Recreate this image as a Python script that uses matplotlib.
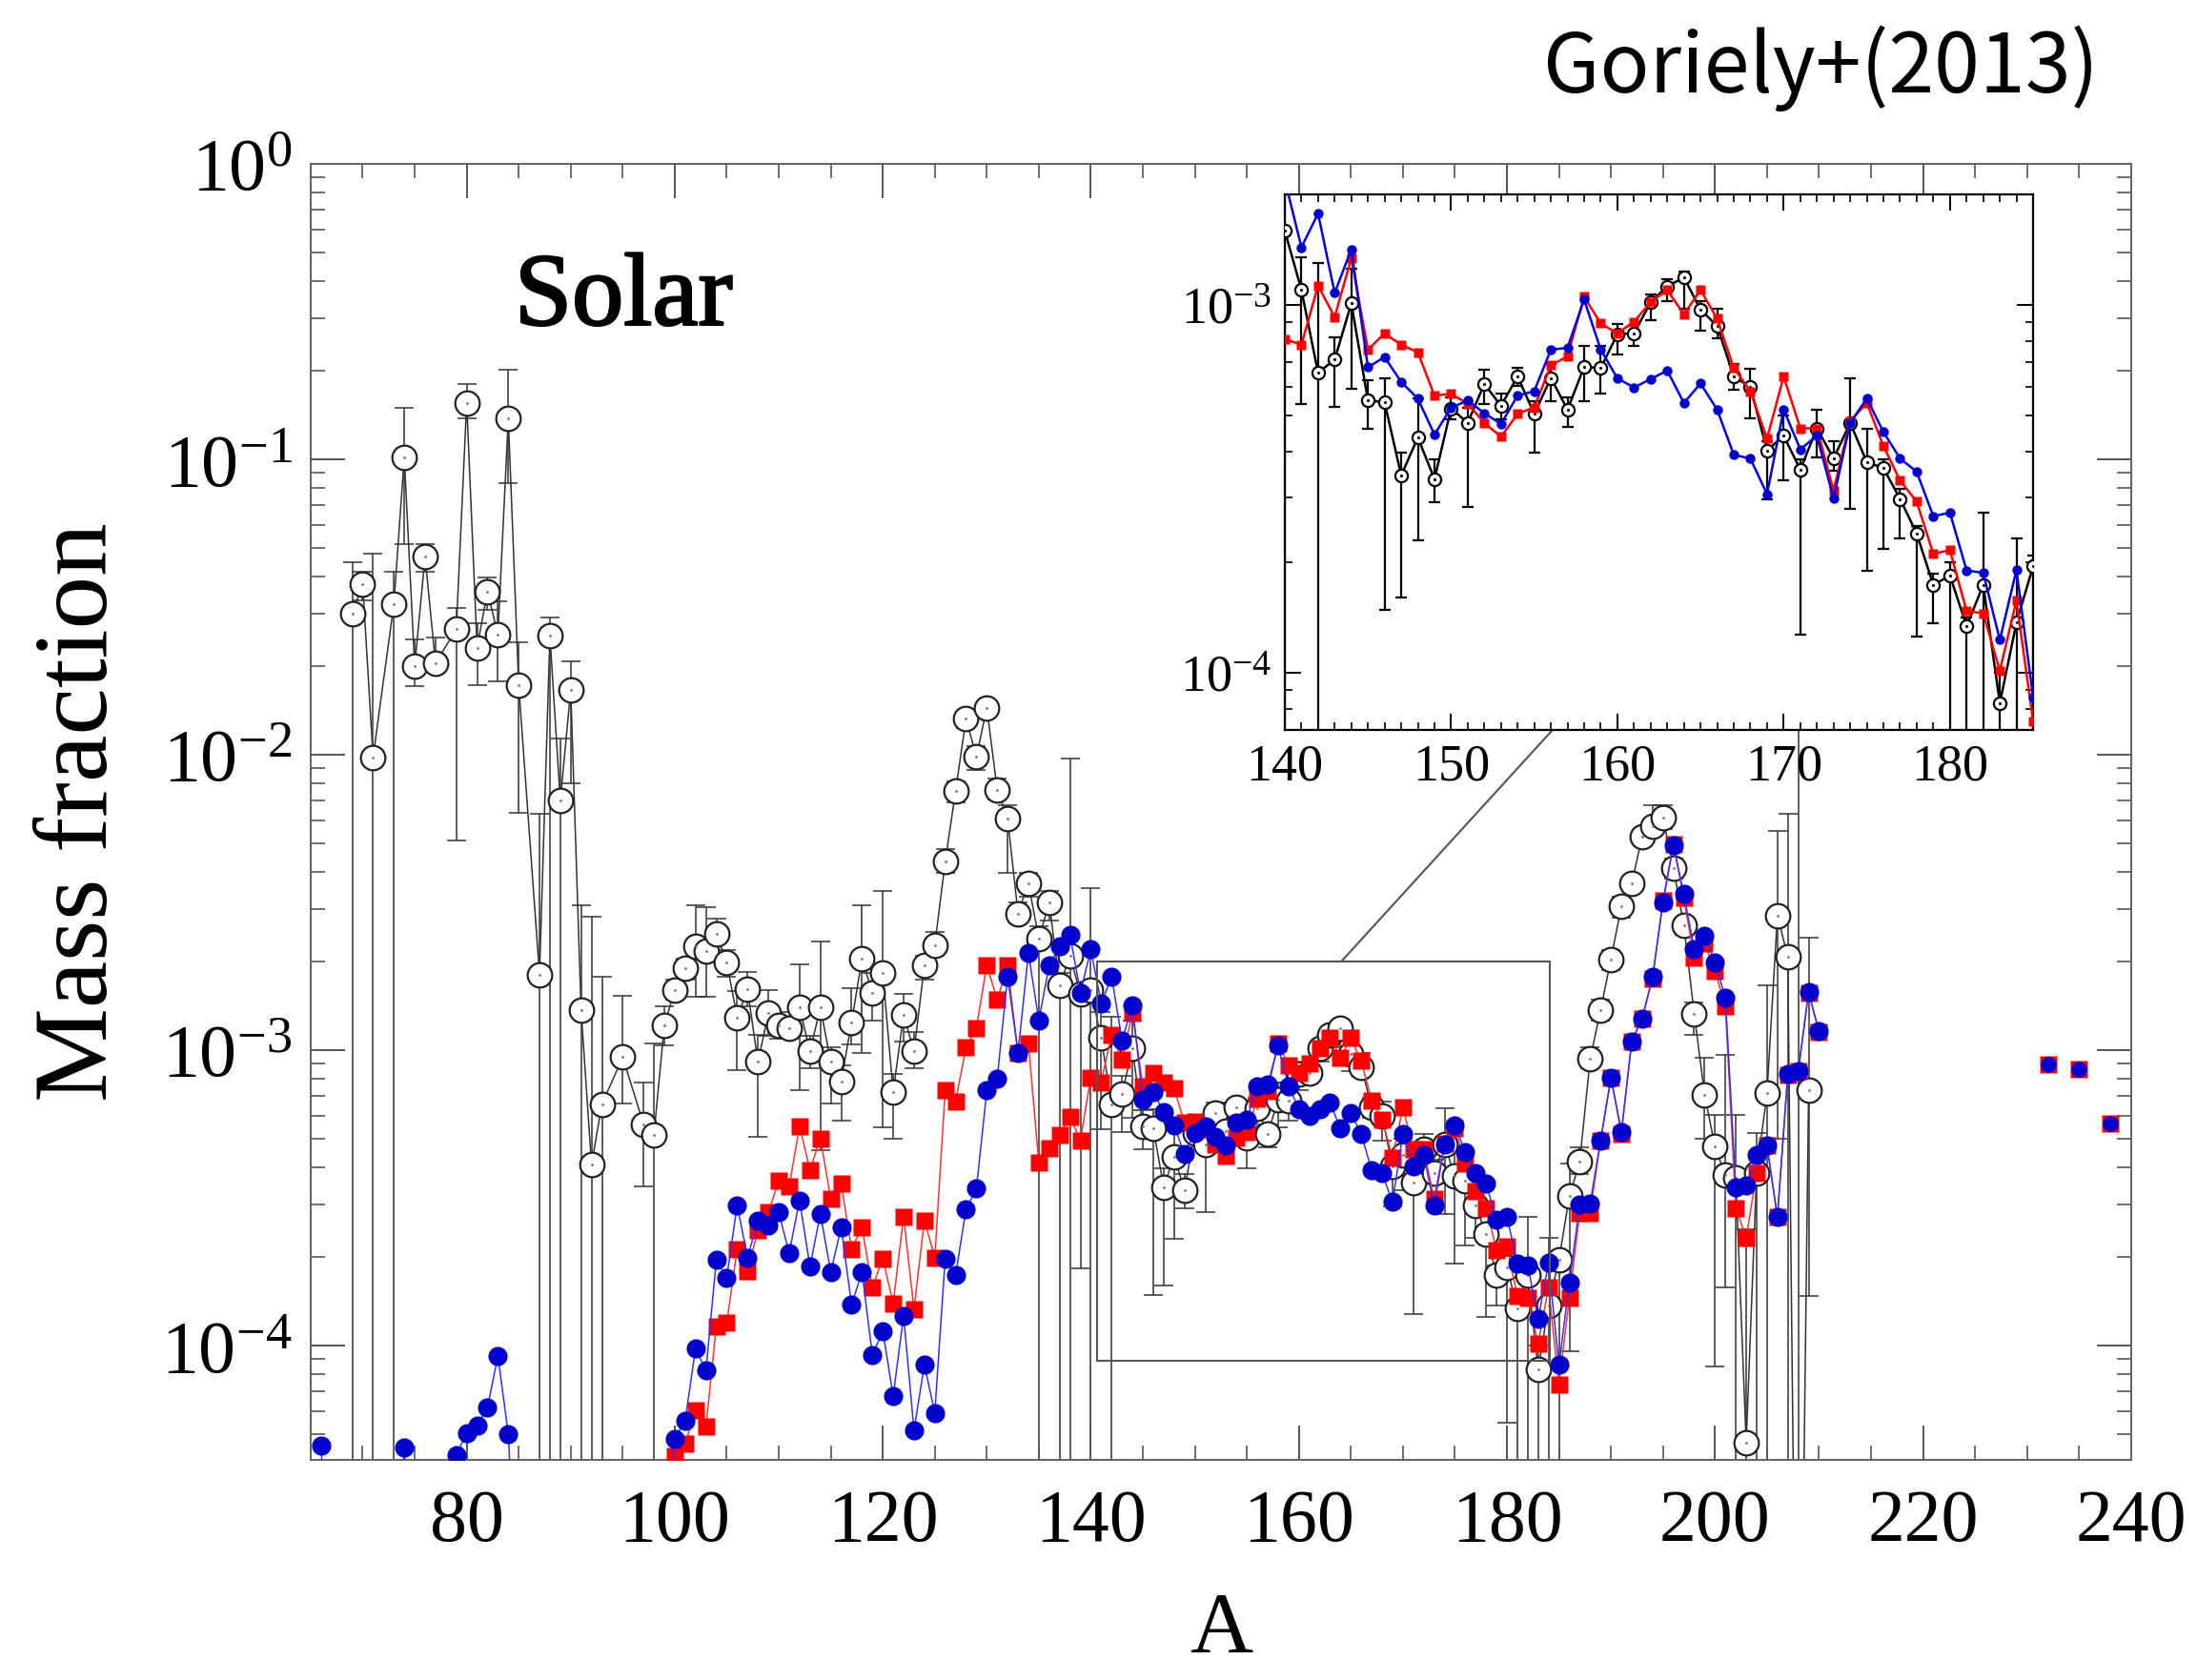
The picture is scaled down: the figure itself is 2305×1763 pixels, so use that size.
import numpy as np
import matplotlib.pyplot as plt
import matplotlib.patheffects as pe
from matplotlib.patches import Rectangle, ConnectionPatch
from matplotlib.ticker import MultipleLocator, LogLocator, NullFormatter, LogFormatterMathtext

plt.rcParams['font.family'] = ['Liberation Serif', 'DejaVu Serif']
plt.rcParams['mathtext.fontset'] = 'custom'
plt.rcParams['mathtext.rm'] = 'Liberation Serif'
plt.rcParams['mathtext.it'] = 'Liberation Serif:italic'
plt.rcParams['mathtext.bf'] = 'Liberation Serif:bold'

# ---------------- data (log10 of mass fraction) ----------------
# solar r-process residuals: value, lower end and upper end of the error bar
solar_A = [69, 70, 71, 73, 74, 75, 76, 77, 79, 80, 81, 82, 83, 84, 85, 87, 88, 89, 90,
           91, 92, 93, 95, 97, 98, 99] + list(range(100, 210))
solar_log = [-1.524, -1.421, -2.008, -1.49, -0.993, -1.70, -1.329, -1.69, -1.575, -0.809,
             -1.637, -1.447, -1.594, -0.86, -1.765, -2.744, -1.598, -2.156, -1.78, -2.866,
             -3.387, -3.183, -3.024, -3.25, -3.286, -2.916,
             -2.796, -2.722, -2.648, -2.666, -2.607, -2.703, -2.889, -2.795, -3.04, -2.875,
             -2.915, -2.925, -2.856, -3.004, -2.856, -3.04, -3.105, -2.906, -2.69, -2.806,
             -2.74, -3.142, -2.88, -3.004, -2.714, -2.644, -2.362, -2.122, -1.878, -2.007,
             -1.841, -2.118, -2.216, -2.537, -2.435, -2.622, -2.5, -2.782, -2.681, -2.81,
             -2.798, -2.959, -3.184, -3.148, -2.995, -3.259, -3.264, -3.463, -3.36, -3.473,
             -3.281, -3.32, -3.214, -3.274, -3.194, -3.296, -3.198, -3.284, -3.168, -3.171,
             -3.079, -3.077, -2.992, -2.949, -2.925, -3.012, -3.057, -3.194, -3.223, -3.395,
             -3.355, -3.447, -3.335, -3.417, -3.32, -3.427, -3.443, -3.527, -3.621, -3.761,
             -3.735, -3.873, -3.761, -4.082, -3.863, -3.71, -3.495, -3.377, -3.03, -2.864,
             -2.692, -2.513, -2.435, -2.276, -2.242, -2.214, -2.383, -2.576, -2.876, -3.15,
             -3.327, -3.424, -3.432, -4.33, -3.417, -3.146, -2.544, -2.685, -6.0, -3.135]
solar_lo = [-6, -1.477, -6, -6, -1.287, -1.768, -1.38, -1.72, -2.29, -0.86,
            -1.765, -1.51, -1.75, -1.08, -2.196, -6, -6, -6, -2.097, -6,
            -6, -6, -3.18, -3.46, -6, -2.985,
            -2.83, -2.76, -2.82, -2.82, -2.70, -2.75, -3.069, -2.85, -3.294, -2.95,
            -2.96, -2.96, -3.137, -3.06, -3.34, -3.18, -3.24, -2.98, -3.01, -2.90,
            -3.26, -3.30, -2.97, -3.06, -2.76, -2.68, -2.40, -2.16, -1.91, -2.05,
            -1.87, -2.15, -2.40, -2.57, -2.48, -6, -2.56, -6, -6, -3.74,
            -6, -3.268, -6, -3.276, -3.228, -3.335, -3.828, -3.796, -3.639, -3.537,
            -3.31, -3.549, -3.27, -3.31, -3.22, -3.40, -3.26, -3.33, -3.261, -3.24,
            -3.134, -3.11, -3.04, -2.99, -3.01, -3.07, -3.09, -3.23, -3.307, -3.529,
            -3.475, -3.895, -3.415, -3.45, -3.554, -3.721, -3.662, -3.634, -3.902, -3.865,
            -4.26, -6, -6, -6, -6, -6, -4.02, -3.42, -3.06, -2.90,
            -2.73, -2.55, -2.46, -2.30, -2.27, -2.25, -2.42, -2.61, -2.947, -3.299,
            -4.07, -3.803, -6, -6, -6, -6, -3.3, -6, -6, -3.832]
solar_hi = [-1.347, -1.38, -1.32, -1.38, -0.827, -1.61, -1.287, -1.602, -1.502, -0.746,
            -1.556, -1.40, -1.48, -0.698, -1.62, -2.2, -1.534, -1.945, -1.685, -2.508,
            -2.547, -2.752, -2.817, -3.11, -2.976, -2.85,
            -2.76, -2.69, -2.51, -2.515, -2.555, -2.66, -2.80, -2.736, -2.949, -2.797,
            -2.87, -2.89, -2.709, -2.95, -2.633, -2.99, -3.05, -2.79, -2.509, -2.74,
            -2.46, -3.08, -2.81, -2.94, -2.68, -2.60, -2.32, -2.09, -1.85, -1.97,
            -1.82, -2.08, -2.17, -2.50, -2.40, -2.58, -2.46, -2.74, -2.013, -2.78,
            -2.452, -2.87, -2.886, -3.087, -2.90, -3.204, -3.20, -3.40, -3.254, -3.42,
            -3.25, -3.28, -3.176, -3.24, -3.17, -3.26, -3.16, -3.25, -3.111, -3.111,
            -3.052, -3.055, -2.97, -2.93, -2.91, -2.99, -3.01, -3.16, -3.174, -3.37,
            -3.30, -3.42, -3.284, -3.37, -3.198, -3.335, -3.42, -3.50, -3.60, -3.73,
            -3.70, -3.85, -3.564, -4.0, -3.634, -3.68, -3.385, -3.33, -2.99, -2.83,
            -2.66, -2.48, -2.41, -2.25, -2.17, -2.17, -2.35, -2.55, -2.84, -3.025,
            -3.22, -3.017, -3.22, -3.605, -3.28, -2.782, -2.258, -2.2, -1.9, -2.618]

# model 1 (red squares), A = 100..210
red_A = list(range(100, 211))
red_log = [-4.375, -4.333, -4.219, -4.274, -3.936, -3.923, -3.674, -3.748, -3.608, -3.549,
           -3.443, -3.462, -3.257, -3.406, -3.299, -3.502, -3.451, -3.674, -3.600, -3.803,
           -3.705, -3.857, -3.563, -3.877, -3.576, -3.702, -3.137, -3.174, -2.990, -2.925,
           -2.712, -2.829, -2.714, -3.010, -2.976, -3.382, -3.333, -3.286, -3.226, -3.305,
           -3.092, -3.108, -2.947, -3.032, -2.873, -3.121, -3.077, -3.108, -3.128, -3.246,
           -3.241, -3.268, -3.320, -3.358, -3.296, -3.278, -3.164, -3.139, -2.977, -3.050,
           -3.077, -3.045, -2.992, -2.959, -3.025, -2.959, -3.037, -3.171, -3.234, -3.363,
           -3.194, -3.335, -3.335, -3.504, -3.315, -3.266, -3.383, -3.477, -3.534, -3.676,
           -3.666, -3.831, -3.838, -3.994, -3.803, -4.131, -3.839, -3.550, -3.550, -3.307,
           -3.092, -3.283, -2.970, -2.892, -2.759, -2.493, -2.302, -2.485, -2.688, -2.638,
           -2.732, -2.853, -3.534, -3.636, -3.417, -3.323, -3.565, -3.083, -3.072, -2.806,
           -2.939]

# model 2 (blue circles), A = 66..210; -5 lies below the plotted range
blue_A = list(range(66, 211))
blue_log = [-4.34, -5, -5, -5, -5, -5, -5, -5, -4.346, -5,
            -5, -5, -5, -4.37, -4.296, -4.27, -4.21, -4.035, -4.30, -5,
            -5, -5, -5, -5, -5, -5, -5, -5, -5, -5,
            -5, -5, -5, -5,
            -4.315, -4.254, -4.010, -4.084, -3.711, -3.770, -3.525, -3.702, -3.576, -3.595,
            -3.549, -3.687, -3.508, -3.733, -3.554, -3.752, -3.600, -3.862, -3.752, -4.032,
            -3.951, -4.171, -3.899, -4.287, -4.065, -4.228, -3.705, -3.761, -3.539, -3.469,
            -3.137, -3.096, -2.751, -3.010, -2.672, -2.899, -2.712, -2.648, -2.611, -2.805,
            -2.659, -2.843, -2.751, -2.967, -2.848, -3.169, -3.141, -3.209, -3.254, -3.352,
            -3.279, -3.259, -3.294, -3.323, -3.246, -3.234, -3.121, -3.116, -2.985, -3.121,
            -3.199, -3.224, -3.201, -3.178, -3.266, -3.213, -3.284, -3.407, -3.417, -3.514,
            -3.284, -3.392, -3.355, -3.526, -3.320, -3.254, -3.345, -3.417, -3.453, -3.574,
            -3.564, -3.721, -3.728, -3.910, -3.720, -4.066, -3.788, -3.523, -3.518, -3.307,
            -3.092, -3.276, -2.970, -2.892, -2.751, -2.500, -2.305, -2.472, -2.657, -2.613,
            -2.704, -2.822, -3.464, -3.459, -3.354, -3.323, -3.565, -3.080, -3.072, -2.803,
            -2.936]

# Th and U
act_A = [232, 235, 238]
red_act = [-3.049, -3.064, -3.249]
blue_act = [-3.049, -3.064, -3.249]

RED = '#ff0000'
BLUE = '#0000cc'

sA = np.array(solar_A)
sv = 10.0 ** np.array(solar_log)
s_err = [sv - 10.0 ** np.array(solar_lo), 10.0 ** np.array(solar_hi) - sv]
rv = 10.0 ** np.array(red_log)
bv = 10.0 ** np.array(blue_log)

fig = plt.figure(figsize=(23.05, 17.63), dpi=100)

# ---------------- main panel ----------------
ax = fig.add_axes([0.1414, 0.131, 0.8286, 0.7714])
ax.errorbar(sA, sv, yerr=s_err, fmt='none', ecolor='#333333', elinewidth=1.1,
            capsize=7, capthick=1.1, zorder=1)
ax.plot(sA, sv, '-', color='#333333', lw=1.1, zorder=2)
ax.plot(sA, sv, 'o', ms=18.5, mfc='white', mec='#222222', mew=1.6, zorder=3)
ax.plot(sA, sv, '.', ms=2, color='#777777', zorder=3)

ax.plot(red_A, rv, '-', color='#ff3030', lw=1.1, zorder=4)
ax.plot(red_A, rv, 's', ms=13.5, color=RED, mec='none', zorder=5)
ax.plot(blue_A, bv, '-', color='#3030ff', lw=1.1, zorder=6)
ax.plot(blue_A, bv, 'o', ms=14.5, color=BLUE, mec='none', zorder=7)
ax.plot(act_A, 10.0 ** np.array(red_act), 's', ms=13.5, color=RED, mec='none', zorder=5)
ax.plot(act_A, 10.0 ** np.array(blue_act), 'o', ms=12, color=BLUE, mec='none', zorder=7)

ax.set_xlim(65, 240)
ax.set_yscale('log')
ax.set_ylim(4.1e-5, 1)
ax.xaxis.set_major_locator(MultipleLocator(20))
ax.xaxis.set_minor_locator(MultipleLocator(5))
ax.yaxis.set_major_locator(LogLocator(base=10, numticks=10))
ax.yaxis.set_minor_locator(LogLocator(base=10, subs=np.arange(2, 10), numticks=10))
ax.yaxis.set_major_formatter(LogFormatterMathtext())
ax.yaxis.set_minor_formatter(NullFormatter())
ax.tick_params(which='both', direction='in', top=True, right=True, color='#555555')
ax.tick_params(which='major', length=26, width=1.4, labelsize=56)
ax.tick_params(axis='x', which='major', pad=22)
ax.tick_params(axis='y', which='major', pad=14)
ax.tick_params(which='minor', length=11, width=1.2)
for sp in ax.spines.values():
    sp.set_color('#666666')
    sp.set_linewidth(1.5)

ax.set_xlabel('A', fontsize=66)
ax.xaxis.set_label_coords(0.5, -0.102)
ax.set_ylabel('Mass fraction', fontsize=80)
ax.yaxis.set_label_coords(-0.1, 0.5)

ax.text(0.112, 0.876, 'Solar', transform=ax.transAxes, fontsize=78,
        va='baseline', ha='left',
        path_effects=[pe.withStroke(linewidth=1.8, foreground='black')])

# zoom box
ax.add_patch(Rectangle((140.6, 8.9e-5), 184.1 - 140.6, 2.0e-3 - 8.9e-5, fill=False,
                       ec='#555555', lw=1.5, zorder=8))

# ---------------- inset ----------------
axins = fig.add_axes([0.5848, 0.5655, 0.3406, 0.3188])
axins.set_zorder(10)
m = (sA >= 140) & (sA <= 185)
axins.errorbar(sA[m], sv[m], yerr=[s_err[0][m], s_err[1][m]], fmt='none', ecolor='black',
               elinewidth=1.6, capsize=4, capthick=1.6, zorder=1)
axins.plot(sA[m], sv[m], '-', color='black', lw=1.8, zorder=2)
axins.plot(sA[m], sv[m], 'o', ms=9.5, mfc='white', mec='black', mew=1.6, zorder=3)
axins.plot(sA[m], sv[m], '.', ms=2.5, color='black', zorder=3)
axins.plot(red_A, rv, '-', color=RED, lw=1.8, zorder=4)
axins.plot(red_A, rv, 's', ms=7.5, color=RED, mec='none', zorder=5)
axins.plot(blue_A, bv, '-', color='#0000ee', lw=1.8, zorder=6)
axins.plot(blue_A, bv, 'o', ms=7.5, color=BLUE, mec='none', zorder=7)

axins.set_xlim(140, 185)
axins.set_yscale('log')
axins.set_ylim(7e-5, 2e-3)
axins.xaxis.set_major_locator(MultipleLocator(10))
axins.xaxis.set_minor_locator(MultipleLocator(1))
axins.yaxis.set_major_locator(LogLocator(base=10, numticks=10))
axins.yaxis.set_minor_locator(LogLocator(base=10, subs=np.arange(2, 10), numticks=10))
axins.yaxis.set_major_formatter(LogFormatterMathtext())
axins.yaxis.set_minor_formatter(NullFormatter())
axins.tick_params(which='both', direction='in', top=True, right=True)
axins.tick_params(which='major', length=12, width=1.4, labelsize=39, pad=10)
axins.tick_params(which='minor', length=6, width=1.2)
for sp in axins.spines.values():
    sp.set_linewidth(1.6)

con = ConnectionPatch(xyA=(164.1, 2.0e-3), coordsA=ax.transData,
                      xyB=(156.1, 7e-5), coordsB=axins.transData,
                      color='#555555', lw=1.5)
fig.add_artist(con)

fig.text(0.955, 0.985, 'Goriely+(2013)', ha='right', va='top', fontsize=62,
         family=['Noto Sans CJK JP', 'DejaVu Sans'])

fig.savefig('out.png', dpi=100)
